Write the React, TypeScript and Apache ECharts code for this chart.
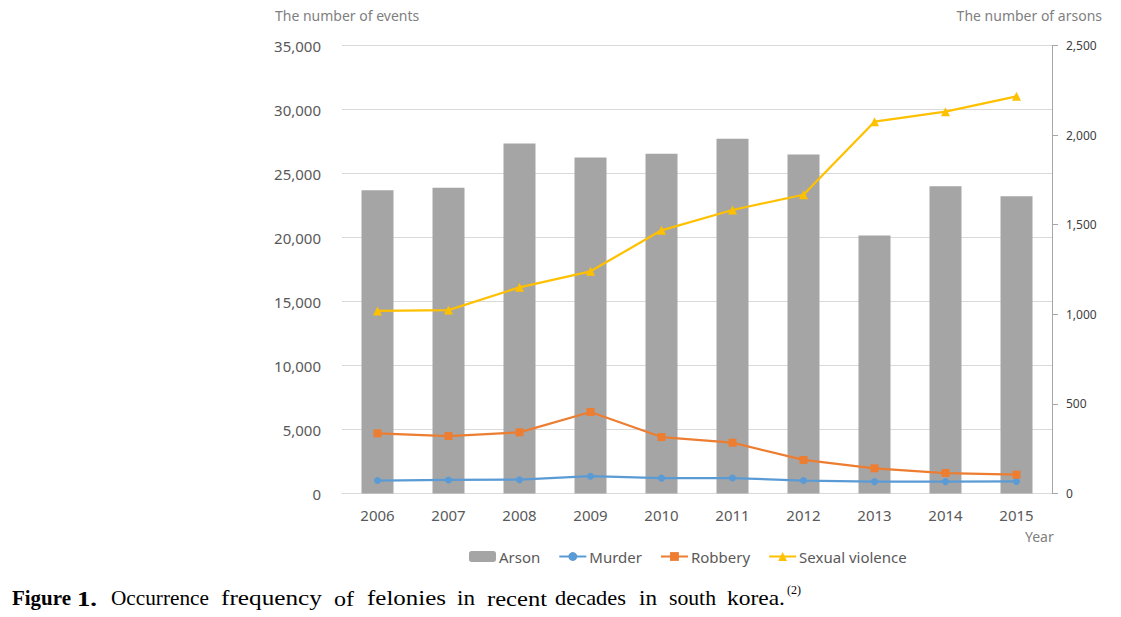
import React, { useEffect, useRef } from "react";
import * as echarts from "echarts";

const years = ["2006", "2007", "2008", "2009", "2010", "2011", "2012", "2013", "2014", "2015"];
const arson = [1692, 1706, 1953, 1875, 1896, 1979, 1892, 1440, 1715, 1659];
const murder = [1010, 1060, 1080, 1350, 1200, 1210, 1010, 930, 930, 940];
const robbery = [4700, 4490, 4780, 6370, 4410, 3970, 2620, 1970, 1600, 1470];
const sexualViolence = [14260, 14330, 16110, 17360, 20560, 22150, 23340, 29050, 29830, 31030];

const leftTicks = { min: 0, max: 35000, interval: 5000 };
const rightTicks = { min: 0, max: 2500, interval: 500 };

// caption words with their left edge and width in the layout
const captionWords = [
  { t: "Figure", x: 12, w: 59, bold: true },
  { t: "1.", x: 77, w: 20, bold: true },
  { t: "Occurrence", x: 111, w: 98 },
  { t: "frequency", x: 221, w: 101 },
  { t: "of", x: 334, w: 20 },
  { t: "felonies", x: 367, w: 79 },
  { t: "in", x: 457, w: 18 },
  { t: "recent", x: 487, w: 60 },
  { t: "decades", x: 555, w: 71 },
  { t: "in", x: 639, w: 18 },
  { t: "south", x: 669, w: 47 },
  { t: "korea.", x: 727, w: 58 },
];

const FONT = "'Noto Sans', 'Open Sans', sans-serif";
const SERIF = "'Liberation Serif', 'DejaVu Serif', serif";
const TEXT = "#595959";

export default function App() {
  const ref = useRef<HTMLDivElement>(null);
  useEffect(() => {
    if (!ref.current) return;
    const chart = echarts.init(ref.current, undefined, { renderer: "svg" });
    const ctx = document.createElement("canvas").getContext("2d");
    const captionGraphics = captionWords.map((w) => {
      const font = `${w.bold ? "bold " : ""}22px ${SERIF}`;
      let sx = 1;
      if (ctx) {
        ctx.font = font;
        const m = ctx.measureText(w.t).width;
        if (m > 0) sx = w.w / m;
      }
      return {
        type: "text",
        x: w.x,
        y: 598,
        scaleX: sx,
        style: {
          text: w.t,
          fill: "#000",
          font,
          verticalAlign: "middle",
        },
      };
    });
    chart.setOption({
      animation: false,
      textStyle: { fontFamily: FONT },
      grid: { left: 342, right: 69, top: 45.5, bottom: 123.5 },
      legend: {
        left: 464,
        top: 544,
        itemWidth: 27,
        itemHeight: 11,
        itemGap: 18,
        textStyle: { color: TEXT, fontSize: 15, fontFamily: FONT, padding: [0, 0, 0, -2] },
        data: ["Arson", "Murder", "Robbery", "Sexual violence"],
      },
      xAxis: {
        type: "category",
        data: years,
        axisTick: { show: false },
        axisLine: { lineStyle: { color: "#d9d9d9", width: 1 } },
        axisLabel: { color: TEXT, fontSize: 15, margin: 14 },
      },
      yAxis: [
        {
          type: "value",
          ...leftTicks,
          axisLine: { show: false },
          axisTick: { show: false },
          splitLine: { lineStyle: { color: "#d9d9d9", width: 1 } },
          axisLabel: {
            color: TEXT,
            fontSize: 15,
            margin: 21,
            formatter: (v: number) => v.toLocaleString("en-US"),
          },
        },
        {
          type: "value",
          ...rightTicks,
          position: "right",
          axisLine: { show: true, lineStyle: { color: "#a6a6a6", width: 1 } },
          axisTick: { show: true, length: 6, lineStyle: { color: "#a6a6a6" } },
          splitLine: { show: false },
          axisLabel: {
            color: "#404040",
            fontSize: 12,
            margin: 14,
            formatter: (v: number) => v.toLocaleString("en-US"),
          },
        },
      ],
      series: [
        {
          name: "Arson",
          type: "bar",
          yAxisIndex: 1,
          data: arson,
          barWidth: 32,
          itemStyle: { color: "#a5a5a5" },
          z: 1,
        },
        {
          name: "Murder",
          type: "line",
          data: murder,
          symbol: "circle",
          symbolSize: 7,
          lineStyle: { color: "#5b9bd5", width: 2.25 },
          itemStyle: { color: "#5b9bd5" },
          z: 3,
        },
        {
          name: "Robbery",
          type: "line",
          data: robbery,
          symbol: "rect",
          symbolSize: 8,
          lineStyle: { color: "#ed7d31", width: 2.25 },
          itemStyle: { color: "#ed7d31" },
          z: 3,
        },
        {
          name: "Sexual violence",
          type: "line",
          data: sexualViolence,
          symbol: "triangle",
          symbolSize: 9,
          lineStyle: { color: "#ffc000", width: 2.25 },
          itemStyle: { color: "#ffc000" },
          z: 3,
        },
      ],
      graphic: [
        {
          type: "text",
          left: 275,
          top: 8,
          style: { text: "The number of events", fill: "#7f7f7f", font: `14px ${FONT}` },
        },
        {
          type: "text",
          right: 19,
          top: 8,
          style: { text: "The number of arsons", fill: "#7f7f7f", font: `14px ${FONT}` },
        },
        {
          type: "text",
          left: 1025,
          top: 529,
          style: { text: "Year", fill: "#7f7f7f", font: `14px ${FONT}` },
        },
        ...captionGraphics,
        {
          type: "text",
          x: 787,
          y: 584,
          style: { text: "(2)", fill: "#000", font: `12px ${SERIF}` },
        },
      ],
    });
    return () => chart.dispose();
  }, []);
  return (
    <div
      ref={ref}
      style={{ position: "fixed", left: 0, top: 0, width: 1121, height: 617, background: "#fff" }}
    />
  );
}
